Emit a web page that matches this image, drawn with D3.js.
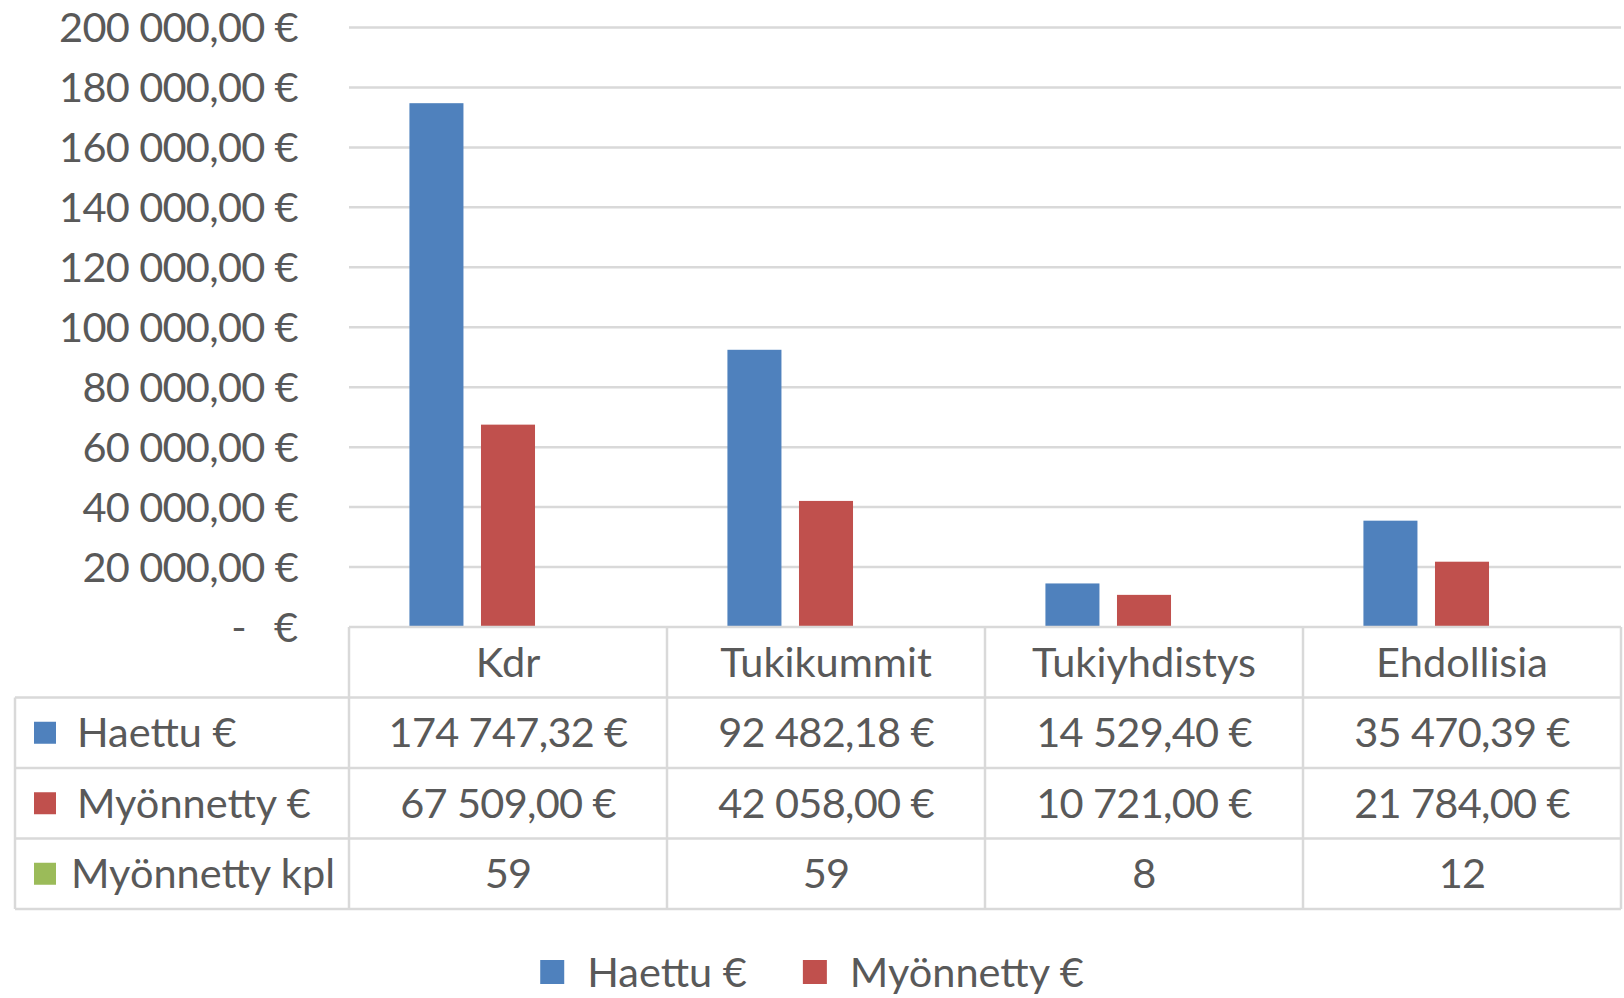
<!DOCTYPE html>
<html>
<head>
<meta charset="utf-8">
<script src="https://cdn.jsdelivr.net/npm/d3@7/dist/d3.min.js"></script>
<style>
  body { margin: 0; background: #fff; }
  text { font-family: Lato, "Open Sans", sans-serif; fill: #595959; }
  text.num { letter-spacing: -0.7px; }
</style>
</head>
<body>
<svg id="chart" width="1624" height="998"></svg>
<script>
// data
var categories = ["Kdr", "Tukikummit", "Tukiyhdistys", "Ehdollisia"];
var seriesNames = ["Haettu €", "Myönnetty €", "Myönnetty kpl"];
var haettu = [174747.32, 92482.18, 14529.40, 35470.39];
var myonnetty = [67509.00, 42058.00, 10721.00, 21784.00];
var myonnettyKpl = [59, 59, 8, 12];
var yTickValues = [0, 20000, 40000, 60000, 80000, 100000, 120000, 140000, 160000, 180000, 200000];
var legendSeries = ["Haettu €", "Myönnetty €"];

var colors = ["#4F81BD", "#C0504D", "#9BBB59"];
var gridColor = "#D9D9D9";
var fontSize = 41.5;

var fi = d3.formatLocale({decimal: ",", thousands: "\u00a0", grouping: [3], currency: ["", "\u00a0€"]});
var euro = fi.format("$,.2f");

var svg = d3.select("#chart");
var plotLeft = 349, plotRight = 1621, plotTop = 27.5, plotBottom = 627;
var tableLeft = 15, rowH = 70.5;

var x0 = d3.scaleBand().domain(categories).range([plotLeft, plotRight]).paddingInner(0.38).paddingOuter(0.19);
var x1 = d3.scaleBand().domain(seriesNames).range([0, x0.bandwidth()]).paddingInner(0.245);
var y = d3.scaleLinear().domain([0, 200000]).range([plotBottom, plotTop]);

// gridlines
svg.append("g").selectAll("line").data(yTickValues.filter(function (d) { return d > 0; }))
    .enter().append("line")
    .attr("x1", plotLeft).attr("x2", plotRight)
    .attr("y1", function (d) { return y(d); }).attr("y2", function (d) { return y(d); })
    .attr("stroke", gridColor).attr("stroke-width", 2.5);

// y labels
var yl = svg.append("g");
yTickValues.forEach(function (d) {
    if (d === 0) {
        // accounting style zero: "-   €"
        yl.append("text").attr("x", 298).attr("y", y(d)).attr("dy", "0.35em")
            .attr("text-anchor", "end").style("font-size", fontSize + "px").text("€");
        yl.append("text").attr("x", 239).attr("y", y(d)).attr("dy", "0.35em")
            .attr("text-anchor", "middle").style("font-size", fontSize + "px").text("-");
        return;
    }
    yl.append("text").attr("class", "num")
        .attr("x", 298).attr("y", y(d)).attr("dy", "0.35em")
        .attr("text-anchor", "end")
        .style("font-size", fontSize + "px")
        .text(euro(d));
});

// bars
var seriesData = [haettu, myonnetty, myonnettyKpl];
seriesData.forEach(function (vals, si) {
    svg.append("g").selectAll("rect").data(vals).enter().append("rect")
        .attr("x", function (d, i) { return x0(categories[i]) + x1(seriesNames[si]); })
        .attr("y", function (d) { return y(d); })
        .attr("width", x1.bandwidth())
        .attr("height", function (d) { return y(0) - y(d); })
        .attr("fill", colors[si]);
});

// data table
var tg = svg.append("g");
var colEdges = categories.map(function (c) { return x0(c) - x0.step() * x0.paddingInner() / 2; });
colEdges.push(plotRight);
var rowTops = d3.range(5).map(function (i) { return plotBottom + i * rowH; });

function hline(xa, xb, yy) {
    tg.append("line").attr("x1", xa).attr("x2", xb).attr("y1", yy).attr("y2", yy)
        .attr("stroke", gridColor).attr("stroke-width", 2.5);
}
function vline(xx, ya, yb) {
    tg.append("line").attr("x1", xx).attr("x2", xx).attr("y1", ya).attr("y2", yb)
        .attr("stroke", gridColor).attr("stroke-width", 2.5);
}
hline(plotLeft, plotRight, rowTops[0]);
for (var r = 1; r < 5; r++) hline(tableLeft, plotRight, rowTops[r]);
colEdges.forEach(function (xx) { vline(xx, rowTops[0], rowTops[4]); });
vline(tableLeft, rowTops[1], rowTops[4]);

// header row
categories.forEach(function (c) {
    tg.append("text")
        .attr("x", x0(c) + x0.bandwidth() / 2).attr("y", rowTops[0] + rowH / 2).attr("dy", "0.35em")
        .attr("text-anchor", "middle").style("font-size", fontSize + "px")
        .text(c);
});

// series rows
seriesData.forEach(function (vals, si) {
    var cy = rowTops[si + 1] + rowH / 2;
    tg.append("rect").attr("x", 34).attr("y", cy - 11).attr("width", 22).attr("height", 22)
        .attr("fill", colors[si]);
    var lab = tg.append("text")
        .attr("x", 77).attr("y", cy).attr("dy", "0.35em")
        .style("font-size", fontSize + "px")
        .text(seriesNames[si]);
    var w = lab.node().getComputedTextLength();
    if (77 + w > plotLeft - 14) lab.attr("x", plotLeft - 14 - w);
    vals.forEach(function (v, i) {
        tg.append("text").attr("class", "num")
            .attr("x", x0(categories[i]) + x0.bandwidth() / 2).attr("y", cy).attr("dy", "0.35em")
            .attr("text-anchor", "middle").style("font-size", fontSize + "px")
            .text(si < 2 ? euro(v) : v);
    });
});

// legend
var lg = svg.append("g");
var lx = 0;
legendSeries.forEach(function (s, i) {
    var it = lg.append("g").attr("transform", "translate(" + lx + ",0)");
    it.append("rect").attr("x", 0).attr("y", -12).attr("width", 24).attr("height", 24)
        .attr("fill", colors[seriesNames.indexOf(s)]);
    var t = it.append("text").attr("x", 47).attr("dy", "0.35em")
        .style("font-size", fontSize + "px").text(s);
    lx += 47 + t.node().getComputedTextLength() + 56;
});
var lw = lx - 56;
lg.attr("transform", "translate(" + (1624 / 2 - lw / 2) + ",972)");
</script>
</body>
</html>
